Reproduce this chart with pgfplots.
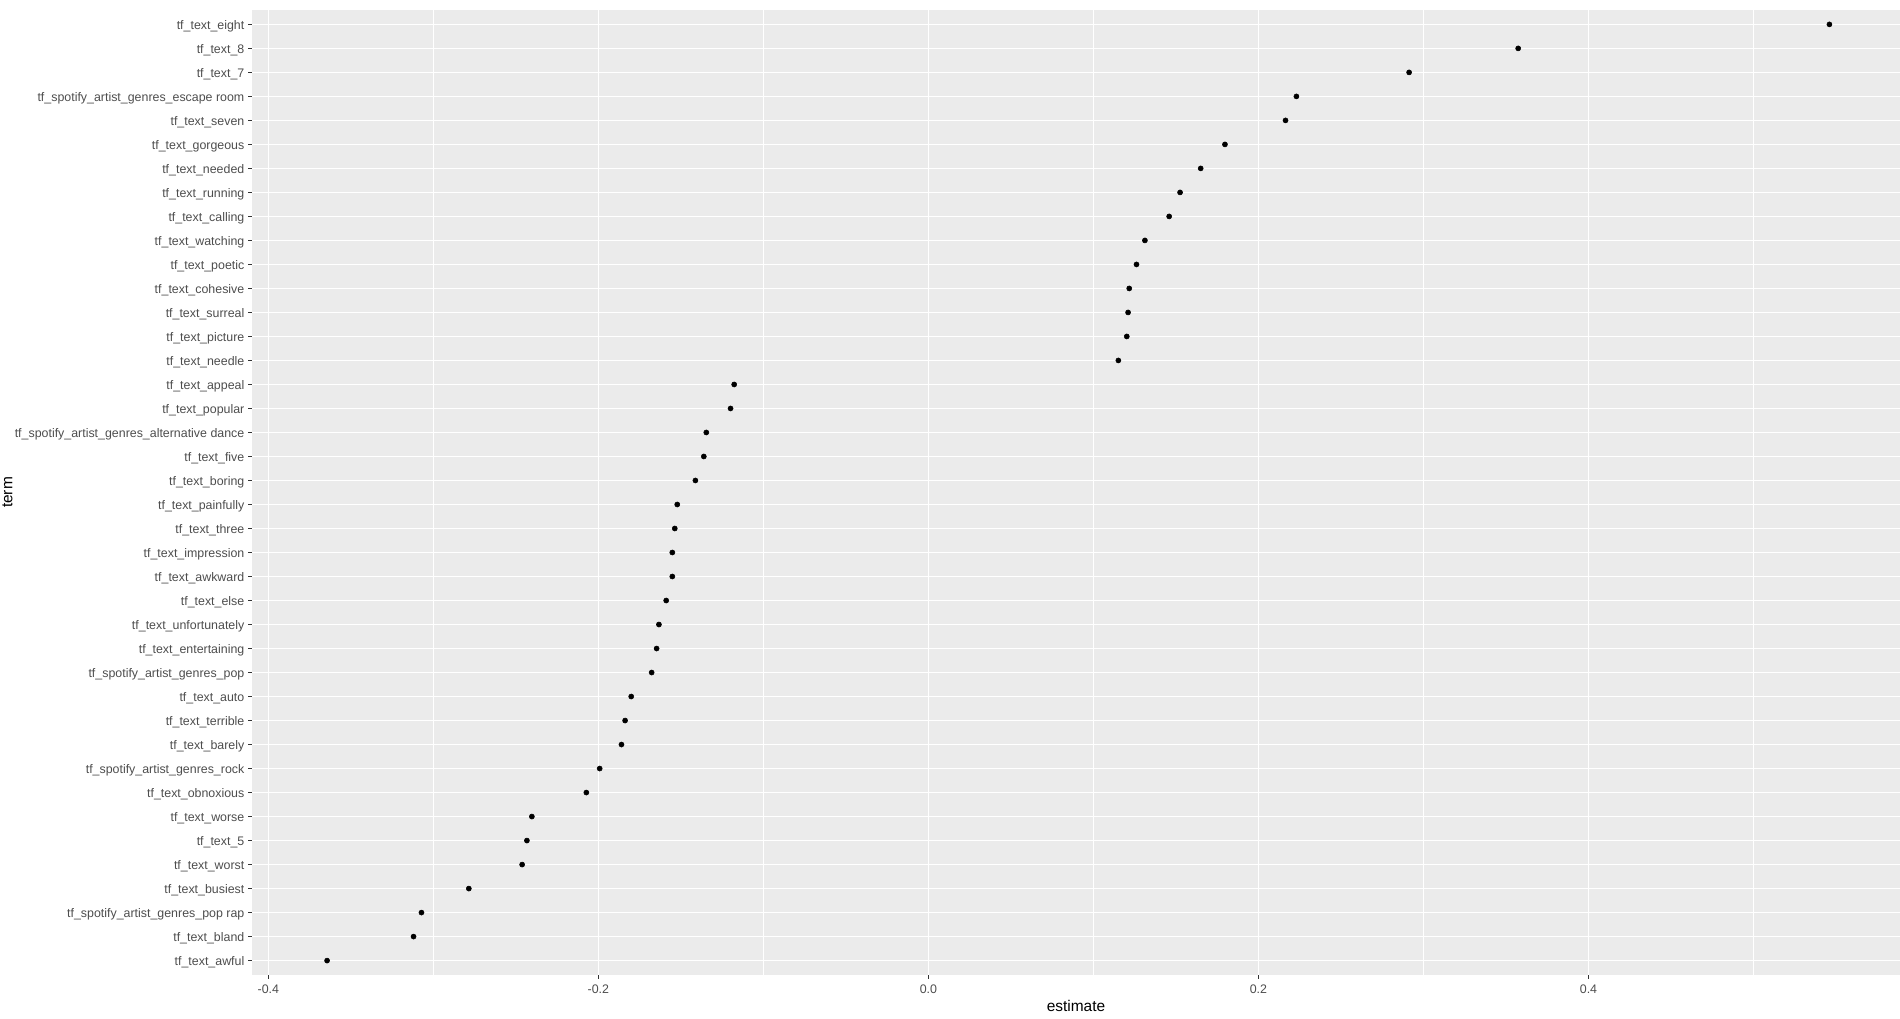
\documentclass[border=0pt]{standalone}
\usepackage{fontspec}
\setmainfont{Liberation Sans}
\usepackage{pgfplots}
\pgfplotsset{compat=1.18}
\definecolor{panelbg}{HTML}{EBEBEB}
\definecolor{ticklab}{HTML}{4D4D4D}
\definecolor{tickcol}{HTML}{333333}
\begin{document}
\begin{tikzpicture}
\begin{axis}[
  at={(0,0)}, anchor=south west,
  scale only axis,
  width=1236pt, height=723.75pt,
  xmin=-0.4099, xmax=0.5888,
  ymin=0.4, ymax=40.6,
  axis background/.style={fill=panelbg},
  axis line style={draw=none},
  xtick={-0.4,-0.2,0,0.2,0.4},
  xticklabels={-0.4,-0.2,0.0,0.2,0.4},
  minor xtick={-0.3,-0.1,0.1,0.3,0.5},
  ytick={1,...,40},
  yticklabels={
    tf\_text\_awful,
    tf\_text\_bland,
    tf\_spotify\_artist\_genres\_pop rap,
    tf\_text\_busiest,
    tf\_text\_worst,
    tf\_text\_5,
    tf\_text\_worse,
    tf\_text\_obnoxious,
    tf\_spotify\_artist\_genres\_rock,
    tf\_text\_barely,
    tf\_text\_terrible,
    tf\_text\_auto,
    tf\_spotify\_artist\_genres\_pop,
    tf\_text\_entertaining,
    tf\_text\_unfortunately,
    tf\_text\_else,
    tf\_text\_awkward,
    tf\_text\_impression,
    tf\_text\_three,
    tf\_text\_painfully,
    tf\_text\_boring,
    tf\_text\_five,
    tf\_spotify\_artist\_genres\_alternative dance,
    tf\_text\_popular,
    tf\_text\_appeal,
    tf\_text\_needle,
    tf\_text\_picture,
    tf\_text\_surreal,
    tf\_text\_cohesive,
    tf\_text\_poetic,
    tf\_text\_watching,
    tf\_text\_calling,
    tf\_text\_running,
    tf\_text\_needed,
    tf\_text\_gorgeous,
    tf\_text\_seven,
    tf\_spotify\_artist\_genres\_escape room,
    tf\_text\_7,
    tf\_text\_8,
    tf\_text\_eight},
  grid=both,
  major grid style={draw=white, line width=0.85pt},
  minor grid style={draw=white, line width=0.45pt},
  tick align=outside,
  xtick pos=bottom, ytick pos=left,
  major tick length=2.75pt,
  minor tick length=0pt,
  tick style={draw=tickcol, line width=0.8pt},
  tick label style={font=\fontsize{9.3}{11}\selectfont, text=ticklab, inner sep=0pt},
  xticklabel shift=4.6pt,
  yticklabel shift=2.8pt,
  yticklabel style={anchor=base east, yshift=-3.6pt},
  xlabel={estimate}, ylabel={term},
  label style={font=\fontsize{11.6}{13}\selectfont, text=black, inner sep=0pt},
  xlabel style={at={(axis description cs:0.5,-0.0318)}, anchor=center},
  ylabel style={at={(axis description cs:-0.1484,0.5)}, anchor=center},
  clip=false,
]
\addplot[only marks, mark=*, mark size=1.9pt, color=black] coordinates {
(-0.3644,1) (-0.3120,2) (-0.3072,3) (-0.2785,4) (-0.2462,5)
(-0.2433,6) (-0.2403,7) (-0.2073,8) (-0.1992,9) (-0.1860,10)
(-0.1838,11) (-0.1801,12) (-0.1677,13) (-0.1647,14) (-0.1633,15)
(-0.1589,16) (-0.1552,17) (-0.1552,18) (-0.1537,19) (-0.1522,20)
(-0.1412,21) (-0.1361,22) (-0.1346,23) (-0.1199,24) (-0.1177,25)
(0.1151,26) (0.1202,27) (0.1210,28) (0.1217,29) (0.1261,30)
(0.1312,31) (0.1459,32) (0.1525,33) (0.1650,34) (0.1797,35)
(0.2164,36) (0.2230,37) (0.2913,38) (0.3574,39) (0.5460,40)
};
\end{axis}
\pgfresetboundingbox
\path (-189pt,-33pt) rectangle (1236pt,731.25pt);
\end{tikzpicture}
\end{document}
